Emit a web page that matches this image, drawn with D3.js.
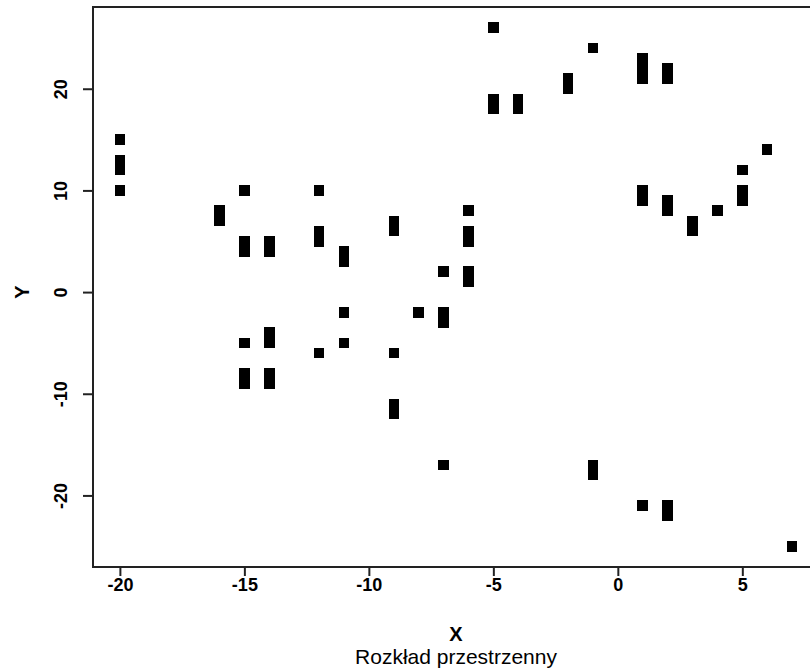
<!DOCTYPE html>
<html>
<head>
<meta charset="utf-8">
<script src="https://cdn.jsdelivr.net/npm/d3@7"></script>
<style>
  html, body { margin: 0; padding: 0; background: #fff; }
  svg { display: block; }
  text { font-family: "Liberation Sans", Arial, sans-serif; fill: #000; }
</style>
</head>
<body>
<svg id="chart" width="810" height="672"></svg>
<script>
// Sampled positions (X, Y)
const pointX = [
  -20, -20, -20, -20,
  -16, -16,
  -15, -15, -15, -15, -15, -15,
  -14, -14, -14, -14, -14, -14,
  -12, -12, -12, -12,
  -11, -11, -11, -11,
  -9, -9, -9, -9, -9,
  -8,
  -7, -7, -7, -7,
  -6, -6, -6, -6, -6,
  -5, -5, -5,
  -4, -4,
  -2, -2,
  -1, -1, -1,
  1, 1, 1, 1, 1, 1,
  2, 2, 2, 2, 2, 2,
  3, 3,
  4,
  5, 5, 5,
  6,
  7
];
const pointY = [
  15, 13, 12, 10,
  8, 7,
  10, 5, 4, -5, -8, -9,
  5, 4, -4, -5, -8, -9,
  10, 6, 5, -6,
  4, 3, -2, -5,
  7, 6, -6, -11, -12,
  -2,
  2, -2, -3, -17,
  8, 6, 5, 2, 1,
  26, 19, 18,
  19, 18,
  21, 20,
  24, -17, -18,
  23, 22, 21, 10, 9, -21,
  22, 21, 9, 8, -21, -22,
  7, 6,
  8,
  12, 10, 9,
  14,
  -25
];

const xTicks = [-20, -15, -10, -5, 0, 5];
const yTicks = [-20, -10, 0, 10, 20];
const xTitle = "X";
const yTitle = "Y";
const subTitle = "Rozkład przestrzenny";

const svg = d3.select("#chart");

// Data range padded by 4% on each side
const xExt = d3.extent(pointX), yExt = d3.extent(pointY);
const xPad = (xExt[1] - xExt[0]) * 0.04, yPad = (yExt[1] - yExt[0]) * 0.04;

const plot = { left: 93, right: 819, top: 7, bottom: 567 };
const midX = (plot.left + plot.right) / 2;

const x = d3.scaleLinear()
  .domain([xExt[0] - xPad, xExt[1] + xPad])
  .range([plot.left, plot.right]);
const y = d3.scaleLinear()
  .domain([yExt[0] - yPad, yExt[1] + yPad])
  .range([plot.bottom, plot.top]);

// Frame around the plotting region
svg.append("rect")
  .attr("x", plot.left).attr("y", plot.top)
  .attr("width", plot.right - plot.left).attr("height", plot.bottom - plot.top)
  .attr("fill", "none").attr("stroke", "#222").attr("stroke-width", 2);

// Bottom axis
const gx = svg.append("g")
  .attr("transform", `translate(0,${plot.bottom})`)
  .call(d3.axisBottom(x).tickValues(xTicks).tickSize(9).tickPadding(2).tickFormat(d3.format("d")));
gx.select(".domain").remove();
gx.selectAll(".tick line").attr("stroke", "#222").attr("stroke-width", 2);
gx.selectAll(".tick text")
  .attr("font-size", 18).attr("font-weight", "bold")
  .attr("font-family", "'Liberation Sans', Arial, sans-serif")
  .text(d => String(d));

// Left axis, labels turned to run along the axis
const gy = svg.append("g")
  .attr("transform", `translate(${plot.left},0)`)
  .call(d3.axisLeft(y).tickValues(yTicks).tickSize(10).tickFormat(d3.format("d")));
gy.select(".domain").remove();
gy.selectAll(".tick line").attr("stroke", "#222").attr("stroke-width", 2);
gy.selectAll(".tick text")
  .attr("font-size", 18).attr("font-weight", "bold")
  .attr("font-family", "'Liberation Sans', Arial, sans-serif")
  .attr("x", null).attr("dy", null)
  .attr("text-anchor", "middle")
  .attr("transform", "translate(-26,0) rotate(-90)")
  .text(d => String(d));

// Axis titles
svg.append("text")
  .attr("x", midX).attr("y", 641)
  .attr("text-anchor", "middle")
  .attr("font-size", 20).attr("font-weight", "bold")
  .text(xTitle);
svg.append("text")
  .attr("x", midX).attr("y", 664)
  .attr("text-anchor", "middle")
  .attr("font-size", 21)
  .text(subTitle);
svg.append("text")
  .attr("transform", `translate(29,${y(0)}) rotate(-90)`)
  .attr("text-anchor", "middle")
  .attr("font-size", 20).attr("font-weight", "bold")
  .text(yTitle);

// Points as filled squares; neighbours one unit apart merge into a block
const sw = 10.5, sh = 10.6;
svg.append("g")
  .attr("shape-rendering", "crispEdges")
  .selectAll("rect")
  .data(d3.range(pointX.length))
  .join("rect")
  .attr("x", i => x(pointX[i]) - sw / 2)
  .attr("y", i => y(pointY[i]) - sh / 2)
  .attr("width", sw).attr("height", sh)
  .attr("fill", "#000");
</script>
</body>
</html>
